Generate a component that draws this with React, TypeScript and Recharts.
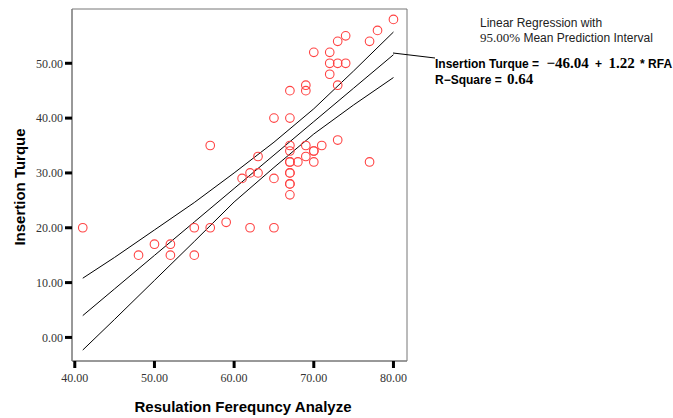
import React from 'react';
import { ComposedChart, Scatter, Line, XAxis, YAxis, ReferenceArea } from 'recharts';

// observed points (RFA, insertion torque)
const rfa = [80, 78, 74, 73, 77, 70, 72, 72, 73, 74, 72, 73, 69, 69, 67, 65, 67, 57, 73, 67, 67, 69, 71, 70, 70, 69, 63, 67, 67, 68, 70, 77, 62, 63, 61, 65, 67, 67, 67, 67, 67, 41, 55, 57, 59, 62, 65, 50, 52, 48, 52, 55];
const torque = [58, 56, 55, 54, 54, 52, 52, 50, 50, 50, 48, 46, 46, 45, 45, 40, 40, 35, 36, 35, 34, 35, 35, 34, 34, 33, 33, 32, 32, 32, 32, 32, 30, 30, 29, 29, 30, 30, 28, 28, 26, 20, 20, 20, 21, 20, 20, 17, 17, 15, 15, 15];

// fit line and 95% mean prediction band
const bandX = [41, 45, 50, 55, 60, 65, 70, 75, 80];
const fitY = [3.98, 8.86, 14.96, 21.06, 27.16, 33.26, 39.36, 45.46, 51.56];
const upperY = [10.8, 14.6, 19.6, 24.6, 30.0, 35.6, 41.7, 48.6, 55.7];
const lowerY = [-2.3, 3.3, 10.4, 17.5, 24.7, 31.0, 37.1, 42.4, 47.4];

const xTicks = [40, 50, 60, 70, 80];
const yTicks = [0, 10, 20, 30, 40, 50];

const points = rfa.map((x, i) => ({ x, y: torque[i] }));
const toSeries = (ys: number[]) => bandX.map((x, i) => ({ x, y: ys[i] }));

const serif = '"Liberation Serif", "Times New Roman", serif';
const sans = '"Liberation Sans", Arial, sans-serif';

const RingDot = (props: any) => {
  const { cx, cy } = props;
  if (cx == null || cy == null) return <g />;
  return <circle cx={cx} cy={cy} r={4.3} fill="none" stroke="#ff4343" strokeWidth={1.1} />;
};

export default function App() {
  return (
    <div style={{ position: 'absolute', left: 0, top: 0, width: 673, height: 418, background: '#fff' }}>
      <ComposedChart width={673} height={418} margin={{ top: 9, right: 266, bottom: 27, left: 0 }}>
        <XAxis
          type="number"
          dataKey="x"
          height={30}
          domain={[39.65, 81.7]}
          ticks={xTicks}
          tickFormatter={(v) => v.toFixed(2)}
          axisLine={{ stroke: '#777' }}
          tickLine={{ stroke: '#000', strokeWidth: 3 }}
          tickSize={7}
          tickMargin={5}
          tick={{ fill: '#333', fontSize: 12, fontFamily: serif }}
          allowDataOverflow
        />
        <YAxis
          type="number"
          dataKey="y"
          width={72}
          domain={[-4.3, 59.9]}
          ticks={yTicks}
          tickFormatter={(v) => v.toFixed(2)}
          axisLine={{ stroke: '#777' }}
          tickLine={{ stroke: '#000', strokeWidth: 3 }}
          tickSize={7}
          tickMargin={2}
          tick={{ fill: '#333', fontSize: 12, fontFamily: serif }}
          allowDataOverflow
        />
        <ReferenceArea x1={39.65} x2={81.7} y1={-4.3} y2={59.9} fill="none" stroke="#777" strokeWidth={1} />
        <Line data={toSeries(upperY)} dataKey="y" stroke="#000" strokeWidth={1} dot={false} isAnimationActive={false} />
        <Line data={toSeries(fitY)} dataKey="y" stroke="#000" strokeWidth={1} dot={false} isAnimationActive={false} />
        <Line data={toSeries(lowerY)} dataKey="y" stroke="#000" strokeWidth={1} dot={false} isAnimationActive={false} />
        <Scatter data={points} shape={RingDot} isAnimationActive={false} />
      </ComposedChart>

      <svg width={673} height={418} style={{ position: 'absolute', left: 0, top: 0, pointerEvents: 'none' }}>
        <line x1={393} y1={53} x2={435} y2={58} stroke="#000" strokeWidth={1} />
        <text x={480} y={27} fontFamily={sans} fontSize={12} fill="#222">Linear Regression with</text>
        <text x={480} y={42} fontSize={12} fill="#222">
          <tspan fontFamily={serif} fontSize={13}>95.00%</tspan>
          <tspan fontFamily={sans}> Mean Prediction Interval</tspan>
        </text>
        <text x={435} y={68} fontWeight="bold" fill="#000">
          <tspan fontFamily={sans} fontSize={12}>Insertion Turque = </tspan>
          <tspan dx={4} fontFamily={serif} fontSize={15}>−46.04</tspan>
          <tspan dx={3} fontFamily={sans} fontSize={12}> + </tspan>
          <tspan dx={3} fontFamily={serif} fontSize={15}>1.22</tspan>
          <tspan dx={2} fontFamily={sans} fontSize={12}> * RFA</tspan>
        </text>
        <text x={435} y={84} fontWeight="bold" fill="#000">
          <tspan fontFamily={sans} fontSize={12}>R−Square = </tspan>
          <tspan dx={2} fontFamily={serif} fontSize={15}>0.64</tspan>
        </text>
        <text x={243} y={412} textAnchor="middle" fontFamily={sans} fontSize={15} fontWeight="bold" fill="#000">
          Resulation Ferequncy Analyze
        </text>
        <text
          x={0}
          y={0}
          transform="translate(25,187) rotate(-90)"
          textAnchor="middle"
          fontFamily={sans}
          fontSize={15}
          fontWeight="bold"
          fill="#000"
        >
          Insertion Turque
        </text>
      </svg>
    </div>
  );
}
